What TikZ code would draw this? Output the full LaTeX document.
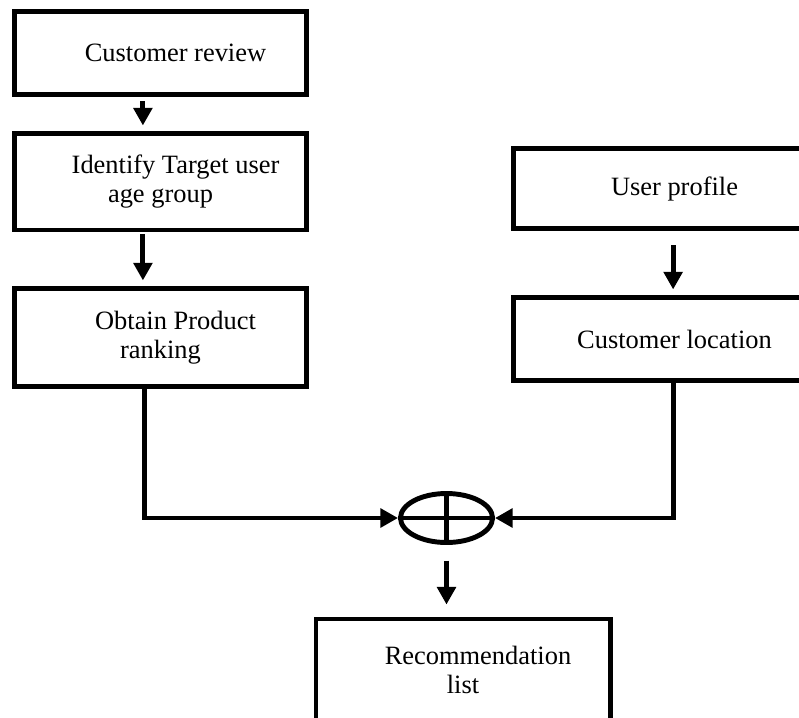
\documentclass[tikz,border=0pt]{standalone}
\usepackage{fontspec}
\setmainfont{Liberation Serif}
\usepackage{tikz}
\usetikzlibrary{positioning,arrows.meta,shapes.geometric,calc}
\tikzstyle{box}   = [rectangle, draw=black, line width=3.5pt, minimum width=7.3cm, align=center, inner sep=0pt, font=\fontsize{18.8pt}{21pt}\selectfont]
\tikzstyle{sumop} = [ellipse, draw=black, line width=3.5pt, minimum width=2.3cm, minimum height=1.225cm, inner sep=0pt]
\tikzstyle{arrow} = [line width=3.5pt, -{Triangle[width=0.46cm,length=0.44cm]}]

\begin{document}
\begin{tikzpicture}[x=0.025cm,y=-0.025cm]
		\useasboundingbox (0,0) rectangle (799,717);

		% left column
		\node[box, minimum height=2.075cm] (review) at (160.5,53) {\hspace*{0.75cm}Customer review};
		\node[box, minimum height=2.41cm] (target) at (160.5,181.75) {\hspace*{0.75cm}Identify Target user\\age group};
		\node[box, minimum height=2.45cm] (rank) at (160.5,337.5) {\hspace*{0.75cm}Obtain Product\\ranking};

		% right column
		\node[box, minimum height=2.0cm] (profile) at (659.5,188.75) {\hspace*{0.75cm}User profile};
		\node[box, minimum height=2.075cm] (location) at (659.5,339) {\hspace*{0.75cm}Customer location};

		% combining and result
		\node[sumop] (sum) at (446.5,518) {};
		\draw[line width=3pt] (sum.north) -- (sum.south) (sum.west) -- (sum.east);
		\node[box, minimum width=7.35cm, minimum height=2.55cm] (reclist) at (463,670) {\hspace*{0.75cm}Recommendation\\list};

		\draw[arrow] ([xshift=-0.44cm,yshift=-0.11cm]review.south) -- ([xshift=-0.44cm,yshift=0.14cm]target.north);
		\draw[arrow] ([xshift=-0.44cm,yshift=-0.05cm]target.south) -- ([xshift=-0.44cm,yshift=0.14cm]rank.north);
		\draw[arrow] ([xshift=0.34cm,yshift=-0.35cm]profile.south) -- ([xshift=0.34cm,yshift=0.14cm]location.north);
		\draw[arrow] ([xshift=-0.41cm]rank.south) |- (sum.west);
		\draw[arrow] ([xshift=0.34cm]location.south) |- (sum.east);
		\draw[arrow] ([yshift=-0.39cm]sum.south) -- ([yshift=0.3cm]sum.south |- reclist.north);
	\end{tikzpicture}
\end{document}
